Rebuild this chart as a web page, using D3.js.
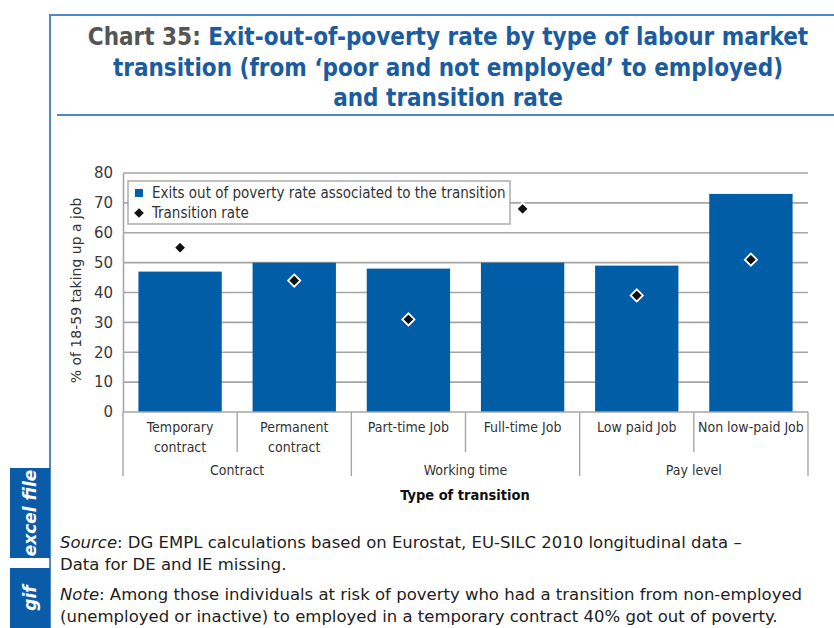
<!DOCTYPE html>
<html>
<head>
<meta charset="utf-8">
<script src="https://cdn.jsdelivr.net/npm/d3@7"></script>
<style>
  body { margin: 0; background: #fff; }
  svg { display: block; }
</style>
</head>
<body>
<div id="vis"></div>
<script>
// ==== DATA ====
const categories = ["Temporary contract", "Permanent contract", "Part-time Job", "Full-time Job", "Low paid Job", "Non low-paid Job"];
const categoryLines = [["Temporary", "contract"], ["Permanent", "contract"], ["Part-time Job"], ["Full-time Job"], ["Low paid Job"], ["Non low-paid Job"]];
const groups = ["Contract", "Working time", "Pay level"];
const groupSize = [2, 2, 2];
const exitRate = [47, 50, 48, 50, 49, 73];
const transitionRate = [55, 44, 31, 68, 39, 51];
const yTicks = [0, 10, 20, 30, 40, 50, 60, 70, 80];

// ==== SETUP ====
const width = 834, height = 628;
const font = "'DejaVu Sans Condensed', 'DejaVu Sans', sans-serif";
const wideFont = "'DejaVu Sans', sans-serif";
const blue = "#005da6";
const frameBlue = "#4f88c6";

const svg = d3.select("#vis")
  .append("svg")
  .attr("width", width)
  .attr("height", height)
  .style("font-family", font);

const plot = {left: 123, right: 808, top: 173, bottom: 412};

const x = d3.scaleBand()
  .domain(categories)
  .range([plot.left, plot.right])
  .paddingInner(0.27)
  .paddingOuter(0.135);

const y = d3.scaleLinear()
  .domain([0, 80])
  .range([plot.bottom, plot.top]);

// ==== FRAME ====
svg.append("line")
  .attr("x1", 50).attr("x2", width).attr("y1", 15).attr("y2", 15)
  .attr("stroke", frameBlue).attr("stroke-width", 2);
svg.append("line")
  .attr("x1", 50).attr("x2", 50).attr("y1", 14).attr("y2", height)
  .attr("stroke", frameBlue).attr("stroke-width", 2);
svg.append("line")
  .attr("x1", 57).attr("x2", width).attr("y1", 115).attr("y2", 115)
  .attr("stroke", frameBlue).attr("stroke-width", 2);

// side tabs
const tabs = [{label: "excel file", y0: 468, y1: 558}, {label: "gif", y0: 568, y1: 640}];
tabs.forEach(t => {
  svg.append("rect")
    .attr("x", 10).attr("y", t.y0).attr("width", 40).attr("height", t.y1 - t.y0)
    .attr("fill", "#0a5ca8");
  const cy = t.label === "gif" ? 598 : (t.y0 + t.y1) / 2;
  svg.append("text")
    .attr("transform", `translate(36,${cy}) rotate(-90)`)
    .attr("text-anchor", "middle")
    .attr("fill", "#fff")
    .style("font-family", wideFont)
    .style("font-size", "17px")
    .style("font-weight", "bold")
    .style("font-style", "italic")
    .text(t.label);
});

// ==== TITLE ====
const titleLines = [
  [{t: "Chart 35: ", c: "#555555"}, {t: "Exit-out-of-poverty rate by type of labour market", c: "#1b5c9f"}],
  [{t: "transition (from \u2018poor and not employed\u2019 to employed)", c: "#1b5c9f"}],
  [{t: "and transition rate", c: "#1b5c9f"}]
];
const titleY = [45, 76, 106];
titleLines.forEach((parts, i) => {
  const tx = svg.append("text")
    .attr("x", 448).attr("y", titleY[i])
    .attr("text-anchor", "middle")
    .style("font-size", "24px")
    .style("font-weight", "600");
  parts.forEach(p => tx.append("tspan").attr("fill", p.c).text(p.t));
});

// ==== GRID + Y AXIS ====
svg.append("g")
  .selectAll("line")
  .data(yTicks.filter(d => d > 0))
  .join("line")
  .attr("x1", plot.left).attr("x2", plot.right)
  .attr("y1", d => y(d)).attr("y2", d => y(d))
  .attr("stroke", "#a6a6a6").attr("stroke-width", 1.6);

const yAxis = svg.append("g")
  .attr("transform", `translate(${plot.left},0)`)
  .call(d3.axisLeft(y).tickValues(yTicks).tickSize(0).tickPadding(10));
yAxis.select(".domain").attr("stroke", "#a6a6a6").attr("stroke-width", 1.6);
yAxis.selectAll("text")
  .style("font-family", wideFont)
  .style("font-size", "15px")
  .attr("fill", "#3a3a3a");

svg.append("text")
  .attr("transform", `translate(81,${(plot.top + plot.bottom) / 2 - 2}) rotate(-90)`)
  .attr("text-anchor", "middle")
  .style("font-family", wideFont)
  .style("font-size", "14px")
  .attr("fill", "#333")
  .text("% of 18-59 taking up a job");

// ==== BARS ====
svg.append("g")
  .selectAll("rect")
  .data(categories)
  .join("rect")
  .attr("x", d => x(d))
  .attr("width", x.bandwidth())
  .attr("y", (d, i) => y(exitRate[i]))
  .attr("height", (d, i) => y(0) - y(exitRate[i]))
  .attr("fill", blue);

// ==== DIAMONDS ====
const diamond = d3.symbol().type(d3.symbolDiamond2).size(95);
svg.append("g")
  .selectAll("path")
  .data(categories)
  .join("path")
  .attr("transform", (d, i) => `translate(${x(d) + x.bandwidth() / 2},${y(transitionRate[i])})`)
  .attr("d", diamond)
  .attr("fill", "#111")
  .attr("stroke", "#fff")
  .attr("stroke-width", 1.8);

// ==== X AXIS (two levels) ====
const step = x.step();
const edge = i => plot.left + i * step;
svg.append("line")
  .attr("x1", plot.left).attr("x2", plot.right)
  .attr("y1", y(0)).attr("y2", y(0))
  .attr("stroke", "#a6a6a6").attr("stroke-width", 1.6);

// inner dividers between categories
const groupEdges = [0];
groupSize.forEach(n => groupEdges.push(groupEdges[groupEdges.length - 1] + n));
svg.append("g")
  .selectAll("line")
  .data(d3.range(1, categories.length).filter(i => !groupEdges.includes(i)))
  .join("line")
  .attr("x1", edge).attr("x2", edge)
  .attr("y1", y(0)).attr("y2", 452)
  .attr("stroke", "#a6a6a6").attr("stroke-width", 1.4);

svg.append("g")
  .selectAll("line")
  .data(groupEdges)
  .join("line")
  .attr("x1", edge).attr("x2", edge)
  .attr("y1", y(0)).attr("y2", 476)
  .attr("stroke", "#a6a6a6").attr("stroke-width", 1.4);

categories.forEach((c, i) => {
  const t = svg.append("text")
    .attr("text-anchor", "middle")
    .style("font-size", "14px")
    .attr("fill", "#333");
  categoryLines[i].forEach((ln, j) => {
    t.append("tspan")
      .attr("x", x(c) + x.bandwidth() / 2)
      .attr("y", 432 + j * 20)
      .text(ln);
  });
});

groups.forEach((g, i) => {
  svg.append("text")
    .attr("x", (edge(groupEdges[i]) + edge(groupEdges[i + 1])) / 2)
    .attr("y", 475)
    .attr("text-anchor", "middle")
    .style("font-size", "14px")
    .attr("fill", "#333")
    .text(g);
});

svg.append("text")
  .attr("x", 465).attr("y", 500)
  .attr("text-anchor", "middle")
  .style("font-size", "14.5px")
  .style("font-weight", "bold")
  .attr("fill", "#111")
  .text("Type of transition");

// ==== LEGEND ====
const legend = svg.append("g");
legend.append("rect")
  .attr("x", 128).attr("y", 181).attr("width", 382).attr("height", 43)
  .attr("fill", "#fff").attr("stroke", "#a6a6a6").attr("stroke-width", 1.4);
legend.append("rect")
  .attr("x", 135).attr("y", 189).attr("width", 8).attr("height", 8)
  .attr("fill", blue);
legend.append("text")
  .attr("x", 152).attr("y", 198)
  .style("font-size", "15px").attr("fill", "#333")
  .text("Exits out of poverty rate associated to the transition");
legend.append("path")
  .attr("transform", "translate(139,213)")
  .attr("d", d3.symbol().type(d3.symbolDiamond2).size(60))
  .attr("fill", "#111");
legend.append("text")
  .attr("x", 152).attr("y", 218)
  .style("font-size", "15px").attr("fill", "#333")
  .text("Transition rate");

// ==== SOURCE / NOTE ====
const notes = [
  {y: 548, parts: [{t: "Source", i: true}, {t: ": DG EMPL calculations based on Eurostat, EU-SILC 2010 longitudinal data \u2013"}]},
  {y: 570, parts: [{t: "Data for DE and IE missing."}]},
  {y: 600, parts: [{t: "Note", i: true}, {t: ": Among those individuals at risk of poverty who had a transition from non-employed"}]},
  {y: 622, parts: [{t: "(unemployed or inactive) to employed in a temporary contract 40% got out of poverty."}]}
];
notes.forEach(n => {
  const t = svg.append("text")
    .attr("x", 60).attr("y", n.y)
    .style("font-family", wideFont)
    .style("font-size", "16.5px")
    .attr("fill", "#222");
  n.parts.forEach(p => t.append("tspan").style("font-style", p.i ? "italic" : "normal").text(p.t));
});
</script>
</body>
</html>
